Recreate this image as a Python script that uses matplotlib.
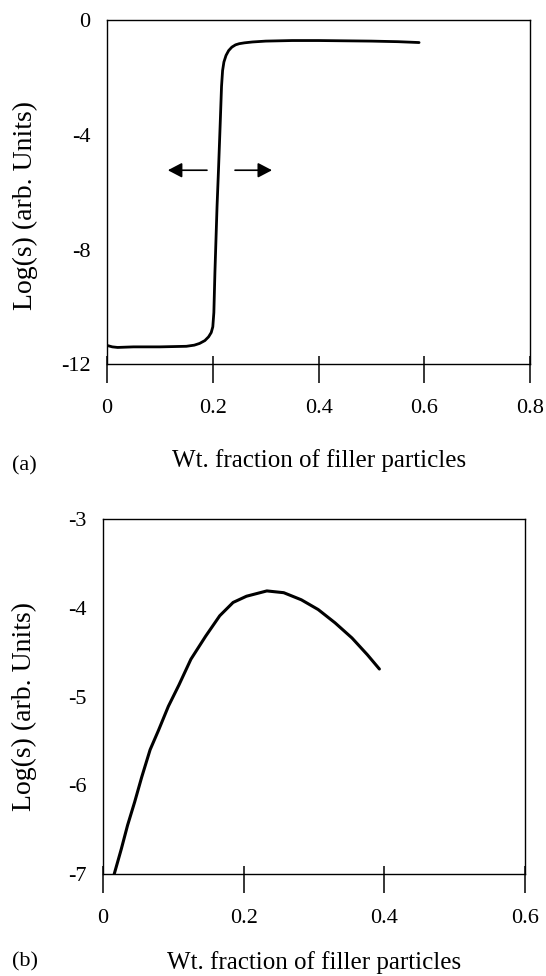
"""
Two-panel percolation sketch: log conductivity vs filler weight fraction.
Writes out.png.
"""

import matplotlib

matplotlib.use("Agg")
import matplotlib.pyplot as plt
from matplotlib.ticker import FixedLocator

# panel (a): sharp percolation step
frac_a = [0.0, 0.01, 0.02, 0.05, 0.10, 0.15, 0.165, 0.175, 0.185, 0.192,
          0.197, 0.200, 0.202, 0.204, 0.208, 0.211, 0.214, 0.2165, 0.2185,
          0.221, 0.225, 0.230, 0.236, 0.243, 0.250, 0.260, 0.275, 0.300,
          0.350, 0.400, 0.450, 0.500, 0.550, 0.590]
logs_a = [-11.35, -11.40, -11.42, -11.40, -11.40, -11.38, -11.34, -11.28,
          -11.18, -11.05, -10.90, -10.70, -10.20, -8.80, -6.50, -5.10, -3.60,
          -2.30, -1.75, -1.45, -1.22, -1.05, -0.93, -0.85, -0.81, -0.78,
          -0.75, -0.72, -0.70, -0.70, -0.71, -0.72, -0.74, -0.77]

# panel (b): rise and fall
frac_b = [0.016, 0.026, 0.035, 0.045, 0.055, 0.067, 0.079, 0.093, 0.108,
          0.125, 0.146, 0.166, 0.185, 0.204, 0.233, 0.257, 0.282, 0.306,
          0.330, 0.354, 0.376, 0.393]
logs_b = [-7.00, -6.72, -6.45, -6.19, -5.91, -5.60, -5.38, -5.11, -4.87,
          -4.58, -4.32, -4.09, -3.94, -3.87, -3.81, -3.83, -3.91, -4.02,
          -4.17, -4.34, -4.53, -4.69]

xticks_a = [0, 0.2, 0.4, 0.6, 0.8]
yticks_a = [-12, -8, -4, 0]
xticks_b = [0, 0.2, 0.4, 0.6]
yticks_b = [-7, -6, -5, -4, -3]

XLABEL = "Wt. fraction of filler particles"
YLABEL = "Log(s) (arb. Units)"

plt.rcParams["font.family"] = ["Liberation Serif", "DejaVu Serif"]


def style_axes(ax, xticks, yticks, xlim, ylim, ylab_xy, xlab_y):
    ax.set_xlim(*xlim)
    ax.set_ylim(*ylim)
    ax.set_xticks(xticks)
    ax.set_xticklabels([f"{t:g}" for t in xticks])
    ax.set_yticks(yticks)
    ax.set_yticklabels([f"{t:g}" for t in yticks])
    # crossing ticks: long part below the axis, short part above
    ax.xaxis.remove_overlapping_locs = False
    ax.xaxis.set_minor_locator(FixedLocator(xticks))
    ax.tick_params(axis="x", which="major", direction="out", length=13.5,
                   width=1.1, labelsize=16, pad=12)
    ax.tick_params(axis="x", which="minor", direction="in", length=5.5,
                   width=1.1)
    ax.tick_params(axis="y", which="major", length=0, labelsize=16, pad=12)
    for s in ax.spines.values():
        s.set_linewidth(1.0)
    ax.set_xlabel(XLABEL, fontsize=18)
    ax.set_ylabel(YLABEL, fontsize=20)
    ax.yaxis.set_label_coords(*ylab_xy)
    ax.xaxis.set_label_coords(0.5, xlab_y)


def main():
    fig = plt.figure(figsize=(5.46, 9.76), dpi=100)

    ax1 = fig.add_axes([0.196, 0.627, 0.775, 0.352])
    ax1.plot(frac_a, logs_a, color="black", lw=2.0, solid_capstyle="round")
    style_axes(ax1, xticks_a, yticks_a, (0, 0.8), (-12, 0), (-0.163, 0.462), -0.247)
    arrow = dict(arrowstyle="-|>,head_length=0.86,head_width=0.45",
                 color="black", lw=1.2, shrinkA=0, shrinkB=0)
    ax1.annotate("", xy=(0.115, -5.23), xytext=(0.189, -5.23), arrowprops=arrow)
    ax1.annotate("", xy=(0.312, -5.23), xytext=(0.242, -5.23), arrowprops=arrow)

    ax2 = fig.add_axes([0.1886, 0.1045, 0.7729, 0.3637])
    ax2.plot(frac_b, logs_b, color="black", lw=2.2, solid_capstyle="round")
    style_axes(ax2, xticks_b, yticks_b, (0, 0.6), (-7, -3), (-0.156, 0.473), -0.217)

    fig.text(12 / 546, 1 - 466 / 976, "(a)", fontsize=16, ha="left", va="center")
    fig.text(12 / 546, 1 - 962 / 976, "(b)", fontsize=16, ha="left", va="center")

    fig.savefig("out.png", dpi=100)
    plt.close(fig)


if __name__ == "__main__":
    main()
